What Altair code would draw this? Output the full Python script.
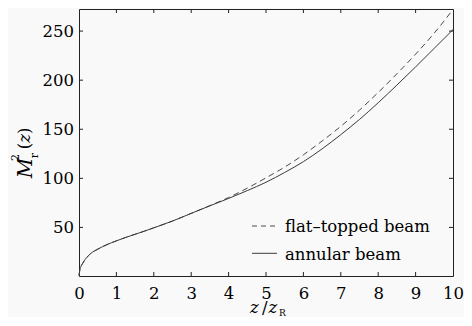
import altair as alt
import pandas as pd

# ---- data ----
z_vals = [0, 0.02, 0.05, 0.1, 0.14, 0.2, 0.3, 0.5, 0.75, 1, 1.25, 1.5, 1.75, 2, 2.5, 3, 3.5,
          4, 4.5, 5, 5.5, 6, 6.5, 7, 7.5, 8, 8.5, 9, 9.5, 10]
annular = [1, 6, 10, 13.5, 16, 19, 23, 27.8, 32.5, 36.3, 39.8, 43, 46.2, 49.6, 56.5, 64.3, 72,
           79.5, 87.5, 96, 106, 117, 130, 144.5, 160, 177, 195, 213.5, 232.5, 251.5]
flat_topped = [1, 6, 10, 13.5, 16, 19, 23, 27.8, 32.5, 36.3, 39.8, 43, 46.2, 49.6, 56.5, 64.3, 72.2,
               80.5, 90, 100.5, 111.5, 124, 138, 153, 169.5, 187.5, 206.5, 226.5, 248, 272]
x_ticks = [0, 1, 2, 3, 4, 5, 6, 7, 8, 9, 10]
y_ticks = [50, 100, 150, 200, 250]
legend_labels = ["flat\u2013topped beam", "annular beam"]

W, H = 374, 267
FONT = "DejaVu Serif"
FS = 16.5
INK = "#222222"

df_a = pd.DataFrame({"z": z_vals, "v": annular})
df_f = pd.DataFrame({"z": z_vals, "v": flat_topped})

xs = alt.Scale(domain=[0, 10], nice=False, zero=False)
ys = alt.Scale(domain=[0.5, 272.5], nice=False, zero=False)

xax = alt.Axis(values=x_ticks, title="", labelBaseline="alphabetic", labelPadding=22)
yax = alt.Axis(values=y_ticks, title="", labelPadding=5.5)

line_a = alt.Chart(df_a).mark_line(color="#3a3a3a", strokeWidth=1, interpolate="monotone").encode(
    x=alt.X("z:Q", scale=xs, axis=xax),
    y=alt.Y("v:Q", scale=ys, axis=yax),
)
line_f = alt.Chart(df_f).mark_line(color="#4a4a4a", strokeWidth=1, strokeDash=[6, 4],
                                   interpolate="monotone").encode(
    x=alt.X("z:Q", scale=xs, axis=xax),
    y=alt.Y("v:Q", scale=ys, axis=yax),
)

xt = pd.DataFrame({"t": x_ticks[1:-1]})
yt = pd.DataFrame({"t": y_ticks})
tick_b = alt.Chart(xt).mark_rule(color=INK, strokeWidth=1).encode(
    x=alt.X("t:Q", scale=xs, axis=xax), y=alt.value(H), y2=alt.value(H - 4))
tick_t = alt.Chart(xt).mark_rule(color=INK, strokeWidth=1).encode(
    x=alt.X("t:Q", scale=xs, axis=xax), y=alt.value(0), y2=alt.value(4))
tick_l = alt.Chart(yt).mark_rule(color=INK, strokeWidth=1).encode(
    y=alt.Y("t:Q", scale=ys, axis=yax), x=alt.value(0), x2=alt.value(4))
tick_r = alt.Chart(yt).mark_rule(color=INK, strokeWidth=1).encode(
    y=alt.Y("t:Q", scale=ys, axis=yax), x=alt.value(W), x2=alt.value(W - 4))

# legend (manual)
LX = 173
leg_f = alt.Chart(pd.DataFrame({"a": [0]})).mark_rule(color="#4a4a4a", strokeWidth=1,
                                                       strokeDash=[5, 4]).encode(
    x=alt.value(LX), x2=alt.value(LX + 25), y=alt.value(217))
leg_a = alt.Chart(pd.DataFrame({"a": [0]})).mark_rule(color="#3a3a3a", strokeWidth=1).encode(
    x=alt.value(LX), x2=alt.value(LX + 25), y=alt.value(244.3))
leg_t1 = alt.Chart(pd.DataFrame({"a": [0]})).mark_text(
    text=legend_labels[0], font=FONT, fontSize=FS, color="black", align="left",
    baseline="alphabetic").encode(x=alt.value(LX + 33), y=alt.value(223.2))
leg_t2 = alt.Chart(pd.DataFrame({"a": [0]})).mark_text(
    text=legend_labels[1], font=FONT, fontSize=FS, color="black", align="left",
    baseline="alphabetic").encode(x=alt.value(LX + 33), y=alt.value(250.5))


def txt(s, x, y, size=FS, style="normal", angle=0, align="center", baseline="middle"):
    kw = dict(text=s, font=FONT, fontSize=size, color="black", align=align, baseline=baseline,
              fontStyle=style)
    if angle:
        kw["angle"] = angle
    return alt.Chart(pd.DataFrame({"a": [0]})).mark_text(**kw).encode(
        x=alt.value(x), y=alt.value(y))


# y title  M_r^2(z)  rotated
ytitle = [
    txt("M", -53, 159, size=20, style="italic", angle=270),
    txt("2", -63.5, 148.5, size=11, angle=270),
    txt("r", -44, 146.5, size=11, angle=270),
    txt("(", -54, 137, angle=270),
    txt("z", -54, 129.3, style="italic", angle=270),
    txt(")", -54, 121.7, angle=270),
]
# x title  z /z_R
TX = 171
xtitle = [
    txt("z", TX, 303.5, style="italic", align="left", baseline="alphabetic"),
    txt("/", TX + 12, 303.5, align="left", baseline="alphabetic"),
    txt("z", TX + 18.5, 303.5, style="italic", align="left", baseline="alphabetic"),
    txt("R", TX + 29, 306.5, size=9, align="left", baseline="alphabetic"),
]

chart = alt.layer(
    line_f, line_a, tick_b, tick_t, tick_l, tick_r,
    leg_f, leg_a, leg_t1, leg_t2, *ytitle, *xtitle
).properties(
    width=W, height=H,
    autosize=alt.AutoSizeParams(type="none"),
    padding={"left": 71, "top": 1, "right": 11, "bottom": 41},
    background="#f9f9f9",
).configure_view(stroke=INK, strokeWidth=1).configure_axis(
    grid=False, domain=False, ticks=False, tickSize=0,
    labelFont=FONT, labelFontSize=FS, labelColor="black",
    labelOverlap=False, labelFlush=False, labelBound=False,
)

chart.save("out.html", embed_options={"renderer": "svg", "actions": False})
